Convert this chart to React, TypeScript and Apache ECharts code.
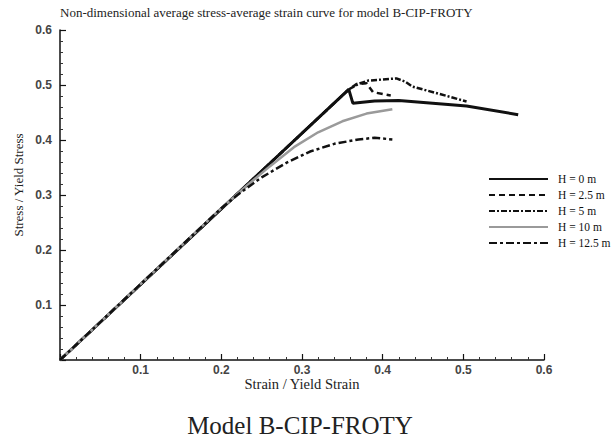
import React, { useEffect, useRef } from "react";
import * as echarts from "echarts";

const seriesNames = ["H = 0 m", "H = 2.5 m", "H = 5 m", "H = 10 m", "H = 12.5 m"];

const strainH0 = [0, 0.358, 0.363, 0.39, 0.42, 0.504, 0.568];
const stressH0 = [0, 0.492, 0.467, 0.471, 0.472, 0.462, 0.446];

const strainH25 = [0, 0.358, 0.368, 0.38, 0.388, 0.41];
const stressH25 = [0, 0.492, 0.502, 0.503, 0.487, 0.481];

const strainH5 = [0, 0.358, 0.37, 0.382, 0.4, 0.417, 0.428, 0.437, 0.47, 0.504];
const stressH5 = [0, 0.492, 0.502, 0.508, 0.51, 0.512, 0.506, 0.497, 0.484, 0.47];

const strainH10 = [0, 0.2, 0.23, 0.26, 0.29, 0.32, 0.35, 0.38, 0.412];
const stressH10 = [0, 0.276, 0.315, 0.352, 0.387, 0.414, 0.434, 0.448, 0.456];

const strainH125 = [0, 0.2, 0.22, 0.25, 0.28, 0.31, 0.34, 0.37, 0.39, 0.412];
const stressH125 = [0, 0.276, 0.3, 0.332, 0.358, 0.379, 0.393, 0.401, 0.404, 0.401];

const titleText = "Non-dimensional average stress-average strain curve for model B-CIP-FROTY";
const captionText = "Model B-CIP-FROTY";
const xName = "Strain / Yield Strain";
const yName = "Stress / Yield Stress";

const zip = (xs: number[], ys: number[]) => xs.map((x, i) => [x, ys[i]]);

const SERIF = "'Liberation Serif', 'DejaVu Serif', serif";
const SANS = "'Liberation Sans', Arial, sans-serif";

export default function App() {
  const ref = useRef<HTMLDivElement>(null);
  useEffect(() => {
    if (!ref.current) return;
    const chart = echarts.init(ref.current, undefined, { renderer: "svg" });
    const axisCommon = {
      type: "value" as const,
      min: 0,
      max: 0.6,
      interval: 0.1,
      axisLine: { show: true, onZero: false, lineStyle: { color: "#111", width: 1.5 } },
      axisTick: { show: true, inside: true, length: 6, lineStyle: { color: "#111", width: 1.2 } },
      minorTick: { show: true, splitNumber: 5, length: 3, lineStyle: { color: "#333", width: 1 } },
      splitLine: { show: false },
      minorSplitLine: { show: false },
      axisLabel: {
        showMinLabel: false,
        formatter: (v: number) => v.toFixed(1),
        fontFamily: SANS,
        fontSize: 12,
        fontWeight: "bold" as const,
        color: "#444",
      },
    };
    const mk = (name: string, data: number[][], color: string, type: any, width: number) => ({
      name,
      type: "line" as const,
      data,
      symbol: "none",
      showSymbol: false,
      lineStyle: { color, width, type },
      itemStyle: { color },
    });
    chart.setOption({
      animation: false,
      backgroundColor: "#fff",
      grid: { left: 60, right: 68, top: 30, bottom: 83, containLabel: false },
      xAxis: { ...axisCommon, axisLabel: { ...axisCommon.axisLabel, margin: 4 } },
      yAxis: { ...axisCommon, axisLabel: { ...axisCommon.axisLabel, margin: 8 } },
      legend: {
        orient: "vertical",
        left: 483,
        top: 168,
        itemWidth: 59,
        itemHeight: 11,
        itemGap: 4,
        itemStyle: { opacity: 0 },
        textStyle: {
          fontFamily: SERIF,
          fontSize: 11.5,
          lineHeight: 11,
          color: "#111",
          padding: [0, 0, 0, 5],
        },
        data: seriesNames,
      },
      series: [
        mk(seriesNames[0], zip(strainH0, stressH0), "#111", "solid", 3),
        mk(seriesNames[1], zip(strainH25, stressH25), "#111", [6, 4], 2.5),
        mk(seriesNames[2], zip(strainH5, stressH5), "#111", [6, 2, 2, 2], 2.5),
        mk(seriesNames[3], zip(strainH10, stressH10), "#9a9a9a", "solid", 2.5),
        mk(seriesNames[4], zip(strainH125, stressH125), "#111", [8, 3, 3, 3], 2.5),
      ],
      graphic: [
        {
          type: "text",
          left: 60,
          top: 6,
          style: { text: titleText, fontFamily: SERIF, fontSize: 13, fill: "#222" },
        },
        {
          type: "text",
          x: 18,
          y: 185,
          rotation: Math.PI / 2,
          style: {
            text: yName,
            fontFamily: SERIF,
            fontSize: 13,
            fill: "#222",
            align: "center",
            verticalAlign: "middle",
          },
        },
        {
          type: "text",
          x: 302,
          y: 384,
          style: {
            text: xName,
            fontFamily: SERIF,
            fontSize: 14.5,
            fill: "#222",
            align: "center",
            verticalAlign: "middle",
          },
        },
        {
          type: "text",
          x: 300,
          y: 425,
          style: {
            text: captionText,
            fontFamily: SERIF,
            fontSize: 25,
            fill: "#222",
            align: "center",
            verticalAlign: "middle",
          },
        },
      ],
    });
    return () => chart.dispose();
  }, []);
  return (
    <div
      ref={ref}
      style={{ position: "fixed", left: 0, top: 0, width: 612, height: 443, background: "#fff" }}
    />
  );
}
